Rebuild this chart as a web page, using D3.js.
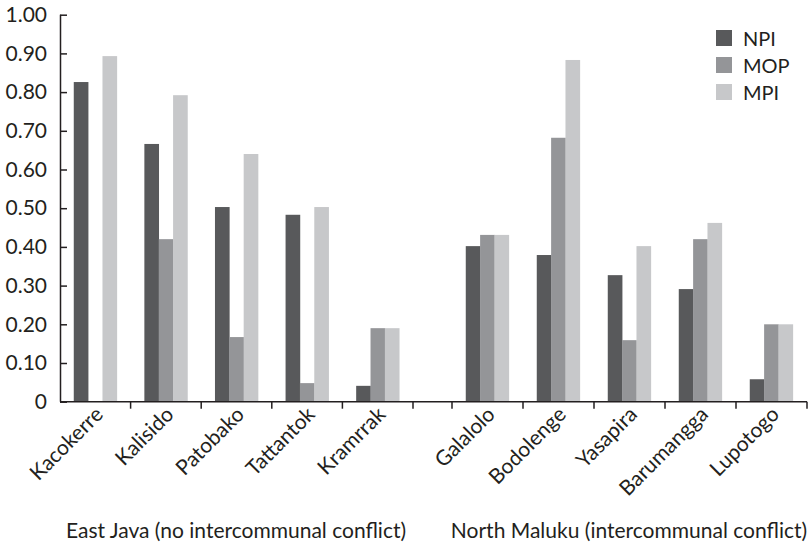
<!DOCTYPE html>
<html>
<head>
<meta charset="utf-8">
<script src="https://cdn.jsdelivr.net/npm/d3@7"></script>
<style>
  html, body { margin: 0; padding: 0; background: #fff; }
  svg text { font-family: Lato, "Open Sans", sans-serif; fill: #231f20; }
</style>
</head>
<body>
<svg id="chart" width="811" height="546"></svg>
<script>
// Villages per region
const eastJava = ["Kacokerre", "Kalisido", "Patobako", "Tattantok", "Kramrrak"];
const northMaluku = ["Galalolo", "Bodolenge", "Yasapira", "Barumangga", "Lupotogo"];
const regionLabels = ["East Java (no intercommunal conflict)", "North Maluku (intercommunal conflict)"];

// Series, in village order (East Java first, then North Maluku)
const seriesNames = ["NPI", "MOP", "MPI"];
const npi = [0.826, 0.666, 0.503, 0.483, 0.041, 0.402, 0.379, 0.327, 0.291, 0.058];
const mop = [0.000, 0.420, 0.167, 0.048, 0.190, 0.431, 0.682, 0.159, 0.420, 0.200];
const mpi = [0.893, 0.792, 0.640, 0.503, 0.190, 0.431, 0.883, 0.402, 0.462, 0.200];
const colors = ["#58595b", "#949598", "#c7c8ca"];

const yTicks = [0, 0.1, 0.2, 0.3, 0.4, 0.5, 0.6, 0.7, 0.8, 0.9, 1.0];
const yTickLabels = ["0", "0.10", "0.20", "0.30", "0.40", "0.50", "0.60", "0.70", "0.80", "0.90", "1.00"];

const svg = d3.select("#chart");
const axisLeft = 60, axisRight = 807, yTop = 14.7, yBottom = 401.7;
const gapStart = 413, gapEnd = 452;

const y = d3.scaleLinear().domain([0, 1]).range([yBottom, yTop]);

// One band scale per region, with an empty spacer between them
const xA = d3.scaleBand().domain(eastJava).range([axisLeft, gapStart]);
const xB = d3.scaleBand().domain(northMaluku).range([gapEnd, axisRight]);
const villages = eastJava.concat(northMaluku);
const xOf = v => eastJava.includes(v) ? xA(v) : xB(v);
const bw = xA.bandwidth();
const inner = d3.scaleBand().domain(seriesNames).range([0, bw * 0.61]);

const values = [npi, mop, mpi];
const g = svg.append("g");

villages.forEach((v, i) => {
  const x0 = xOf(v) + (bw - inner.range()[1]) / 2;
  seriesNames.forEach((s, k) => {
    const val = values[k][i];
    if (val <= 0) return;
    g.append("rect")
      .attr("x", x0 + inner(s))
      .attr("y", y(val))
      .attr("width", inner.bandwidth() + 0.3)
      .attr("height", y(0) - y(val))
      .attr("fill", colors[k]);
  });
});

// Y axis (ticks point into the plot)
const yAxis = d3.axisLeft(y).tickValues(yTicks)
  .tickFormat((d, i) => yTickLabels[i]).tickSizeInner(-7).tickSizeOuter(0).tickPadding(13);
const ya = svg.append("g").attr("transform", `translate(${axisLeft},0)`).call(yAxis);
ya.selectAll("path, line").attr("stroke", "#231f20").attr("stroke-width", 1.5);
ya.selectAll("text").attr("font-size", 21).attr("fill", "#231f20").attr("font-family", "Lato, sans-serif");
ya.select(".domain").attr("d", `M0.5,${yTop}V${yBottom}`);

// X axis with boundary ticks between villages
const boundaries = eastJava.map(v => xA(v)).concat([gapStart, gapEnd], northMaluku.map(v => xB(v) + xB.bandwidth()));
const xa = svg.append("g");
xa.append("line").attr("x1", axisLeft).attr("x2", axisRight)
  .attr("y1", yBottom).attr("y2", yBottom).attr("stroke", "#231f20").attr("stroke-width", 1.5);
xa.selectAll("line.tick").data(boundaries.filter(b => b > axisLeft)).join("line")
  .attr("class", "tick")
  .attr("x1", d => d).attr("x2", d => d)
  .attr("y1", yBottom).attr("y2", yBottom + 7)
  .attr("stroke", "#231f20").attr("stroke-width", 1.5);

// Rotated village labels
svg.append("g").selectAll("text").data(villages).join("text")
  .attr("transform", v => `translate(${xOf(v) + bw / 2 + 9},${yBottom + 14}) rotate(-45)`)
  .attr("text-anchor", "end")
  .attr("font-size", 21)
  .text(v => v);

// Region captions
svg.append("text").attr("x", 236).attr("y", 538).attr("text-anchor", "middle")
  .attr("font-size", 21).text(regionLabels[0]);
svg.append("text").attr("x", 629).attr("y", 538).attr("text-anchor", "middle")
  .attr("font-size", 21).text(regionLabels[1]);

// Legend
const leg = svg.append("g").attr("transform", "translate(716,30)");
seriesNames.forEach((s, k) => {
  leg.append("rect").attr("x", 0).attr("y", k * 27).attr("width", 16).attr("height", 16).attr("fill", colors[k]);
  leg.append("text").attr("x", 27).attr("y", k * 27 + 15.5).attr("font-size", 20).text(s);
});
</script>
</body>
</html>
